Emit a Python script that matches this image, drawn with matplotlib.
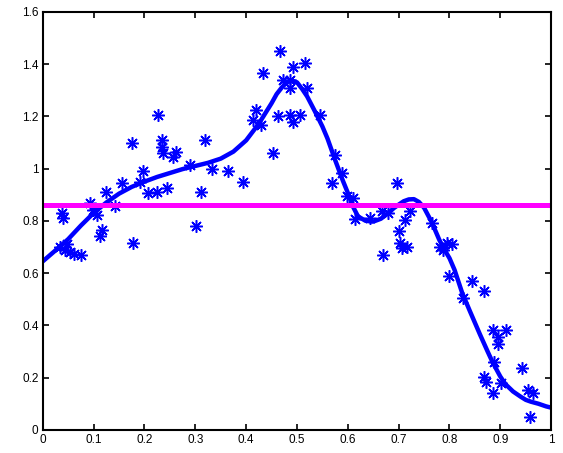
import numpy as np
import matplotlib
matplotlib.use('Agg')
import matplotlib.pyplot as plt

# noisy samples
x_pts = [0.037, 0.040, 0.033, 0.043, 0.047, 0.053, 0.076, 0.062,
         0.093, 0.099, 0.106, 0.116, 0.112, 0.125, 0.142, 0.155,
         0.175, 0.178, 0.197, 0.191, 0.207, 0.224, 0.244,
         0.227, 0.234, 0.234, 0.237, 0.263, 0.257,
         0.289, 0.312, 0.319, 0.302, 0.332, 0.365, 0.393,
         0.420, 0.414, 0.430, 0.434, 0.453, 0.467,
         0.473, 0.486, 0.486, 0.493, 0.516, 0.519,
         0.463, 0.486, 0.493, 0.506, 0.545,
         0.575, 0.588, 0.568, 0.598, 0.611,
         0.614, 0.644, 0.667, 0.680, 0.696, 0.669,
         0.700, 0.703, 0.706, 0.716, 0.713, 0.722,
         0.765, 0.781, 0.787, 0.795, 0.805,
         0.800, 0.844, 0.867, 0.826,
         0.886, 0.911, 0.895, 0.895, 0.888,
         0.867, 0.872, 0.885, 0.901,
         0.942, 0.955, 0.965, 0.959]
y_pts = [0.829, 0.812, 0.700, 0.689, 0.710, 0.680, 0.670, 0.672,
         0.870, 0.842, 0.823, 0.766, 0.742, 0.912, 0.855, 0.944,
         1.097, 0.715, 0.990, 0.950, 0.906, 0.912, 0.925,
         1.206, 1.110, 1.084, 1.059, 1.065, 1.046,
         1.014, 0.912, 1.110, 0.780, 1.000, 0.990, 0.950,
         1.225, 1.187, 1.168, 1.365, 1.060, 1.448,
         1.340, 1.340, 1.308, 1.390, 1.403, 1.308,
         1.200, 1.206, 1.180, 1.206, 1.206,
         1.053, 0.983, 0.944, 0.895, 0.887,
         0.806, 0.810, 0.836, 0.829, 0.944, 0.670,
         0.760, 0.715, 0.696, 0.700, 0.804, 0.836,
         0.790, 0.700, 0.689, 0.716, 0.712,
         0.587, 0.568, 0.533, 0.504,
         0.383, 0.383, 0.330, 0.357, 0.261,
         0.204, 0.185, 0.140, 0.179,
         0.236, 0.153, 0.140, 0.051]

# fitted curve
x_fit = [0.0, 0.025, 0.05, 0.075, 0.1, 0.125, 0.15, 0.175, 0.2, 0.225,
         0.25, 0.275, 0.3, 0.325, 0.35, 0.375, 0.4, 0.425, 0.45, 0.46,
         0.47, 0.48, 0.49, 0.5, 0.51, 0.52, 0.535, 0.55, 0.56, 0.575,
         0.59, 0.6, 0.61, 0.62, 0.635, 0.65, 0.665, 0.68, 0.69, 0.7,
         0.71, 0.72, 0.73, 0.74, 0.75, 0.765, 0.78, 0.79, 0.8, 0.81,
         0.825, 0.84, 0.85, 0.86, 0.875, 0.885, 0.9, 0.91, 0.925, 0.94,
         0.95, 0.96, 0.975, 0.99, 1.0]
y_fit = [0.645, 0.687, 0.73, 0.782, 0.83, 0.87, 0.904, 0.93, 0.95, 0.968,
         0.983, 0.998, 1.010, 1.022, 1.038, 1.065, 1.108, 1.172, 1.25, 1.285,
         1.31, 1.33, 1.337, 1.33, 1.305, 1.276, 1.22, 1.161, 1.115, 1.033,
         0.955, 0.907, 0.855, 0.817, 0.8, 0.797, 0.808, 0.83, 0.848, 0.862,
         0.875, 0.882, 0.883, 0.872, 0.85, 0.795, 0.727, 0.69, 0.657, 0.612,
         0.524, 0.455, 0.41, 0.365, 0.30, 0.258, 0.204, 0.175, 0.147, 0.127,
         0.115, 0.108, 0.10, 0.09, 0.085]

mean_level = 0.862

fig = plt.figure(figsize=(5.63, 4.53), dpi=100)
ax = fig.add_axes([0.076, 0.051, 0.903, 0.923])

ax.plot(x_pts, y_pts, linestyle='none', marker=(8, 2, 0), markersize=9,
        markeredgewidth=1.1, color='#0000ff')
ax.plot(x_fit, y_fit, color='#0000ff', linewidth=3.2,
        solid_capstyle='round', solid_joinstyle='round')
ax.axhline(mean_level, color='#ff00ff', linewidth=3.6)

ax.set_xlim(0, 1)
ax.set_ylim(0, 1.6)
ax.set_xticks(np.arange(0, 1.01, 0.1))
ax.set_xticklabels(['0', '0.1', '0.2', '0.3', '0.4', '0.5', '0.6', '0.7', '0.8', '0.9', '1'])
ax.set_yticks(np.arange(0, 1.61, 0.2))
ax.set_yticklabels(['0', '0.2', '0.4', '0.6', '0.8', '1', '1.2', '1.4', '1.6'])
ax.tick_params(direction='in', top=True, right=True, length=4, width=1.2,
               labelsize=8.5, pad=3)
for lab in ax.get_xticklabels() + ax.get_yticklabels():
    lab.set_family('Liberation Sans')
for s in ax.spines.values():
    s.set_linewidth(1.5)

fig.savefig('out.png', dpi=100)
